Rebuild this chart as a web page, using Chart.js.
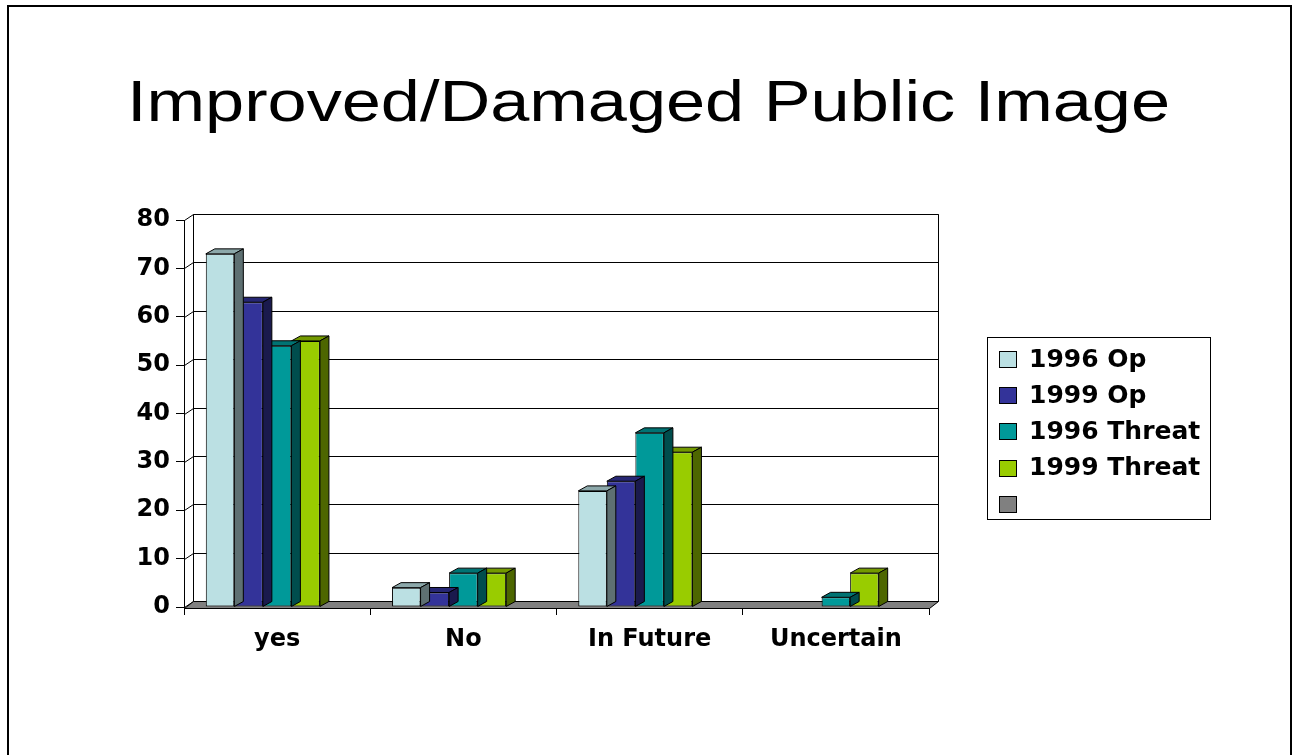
<!DOCTYPE html>
<html>
<head>
<meta charset="utf-8">
<title>Improved/Damaged Public Image</title>
<script src="https://cdn.jsdelivr.net/npm/chart.js@4.4.0/dist/chart.umd.min.js"></script>
<style>
    html, body { margin: 0; padding: 0; background: #fff; }
    canvas { display: block; }
</style>
</head>
<body>
<canvas id="chart" width="1298" height="755"></canvas>
<script>
// Chart data
const chartTitle = "Improved/Damaged Public Image";
const categories = ["yes", "No", "In Future", "Uncertain"];
const seriesNames = ["1996 Op", "1999 Op", "1996 Threat", "1999 Threat", ""];
const op1996 = [73, 4, 24, 0];
const op1999 = [63, 3, 26, 0];
const threat1996 = [54, 7, 36, 2];
const threat1999 = [55, 7, 32, 7];
const unnamed = [null, null, null, null];
const yMin = 0;
const yMax = 80;
const yStep = 10;

// Colours: front, top and side faces of each series
const frontColors = ["#BBE0E3", "#333399", "#009999", "#99CC00", "#808080"];
const topColors = ["#8CA8AA", "#262673", "#007373", "#739900", "#606060"];
const sideColors = ["#5E7072", "#1A1A4D", "#004D4D", "#4D6600", "#404040"];

const labelFont = { family: "DejaVu Sans", weight: "bold", size: 24 };
const WALL_DX = 9, WALL_DY = -6;  // back wall depth offset
const BAR_DX = 9, BAR_DY = -5;    // bar depth offset

const seriesValues = [op1996, op1999, threat1996, threat1999, unnamed];

// Walls, floor, 3D faces, title, legend and slide frame
const threeD = {
    id: "threeD",
    beforeDraw(chart) {
        const ctx = chart.ctx;
        ctx.save();
        ctx.fillStyle = "#fff";
        ctx.fillRect(0, 0, chart.width, chart.height);
        // slide frame (no bottom edge)
        ctx.strokeStyle = "#000";
        ctx.lineWidth = 2;
        ctx.beginPath();
        ctx.moveTo(8, chart.height + 2);
        ctx.lineTo(8, 6);
        ctx.lineTo(1291, 6);
        ctx.lineTo(1291, chart.height + 2);
        ctx.stroke();
        // title, stretched like the slide
        ctx.font = "57px 'Liberation Sans', Arial, sans-serif";
        ctx.textAlign = "center";
        ctx.textBaseline = "alphabetic";
        ctx.fillStyle = "#000";
        const w = ctx.measureText(chartTitle).width;
        ctx.translate(648.5, 121);
        ctx.scale(1043 / w, 1);
        ctx.fillText(chartTitle, 0, 0);
        ctx.restore();
    },
    beforeDatasetsDraw(chart) {
        const { ctx, chartArea: a } = chart;
        const y = chart.scales.y;
        const L = Math.round(a.left) + 0.5;
        const R = Math.round(a.right) + 0.5;
        const T = Math.round(a.top) + 0.5;
        const B = Math.round(a.bottom) + 0.5;
        ctx.save();
        ctx.strokeStyle = "#000";
        ctx.lineWidth = 1;
        // grid lines on back wall + left wall diagonals
        y.ticks.forEach((t) => {
            const py = Math.round(y.getPixelForValue(t.value)) + 0.5;
            ctx.beginPath();
            ctx.moveTo(L, py);
            ctx.lineTo(L + WALL_DX, py + WALL_DY);
            ctx.lineTo(R + WALL_DX, py + WALL_DY);
            ctx.stroke();
        });
        // back wall outline
        ctx.beginPath();
        ctx.moveTo(L + WALL_DX, B + WALL_DY);
        ctx.lineTo(L + WALL_DX, T + WALL_DY);
        ctx.lineTo(R + WALL_DX, T + WALL_DY);
        ctx.lineTo(R + WALL_DX, B + WALL_DY);
        ctx.stroke();
        // floor
        ctx.fillStyle = "#808080";
        ctx.beginPath();
        ctx.moveTo(L, B + 1);
        ctx.lineTo(R, B + 1);
        ctx.lineTo(R + WALL_DX, B + WALL_DY);
        ctx.lineTo(L + WALL_DX, B + WALL_DY);
        ctx.closePath();
        ctx.fill();
        ctx.stroke();
        ctx.restore();
    },
    afterDatasetDraw(chart, args) {
        const i = args.index;
        const ctx = chart.ctx;
        ctx.save();
        ctx.strokeStyle = "#000";
        ctx.lineWidth = 1;
        args.meta.data.forEach((bar) => {
            const p = bar.getProps(["x", "y", "base", "width"], true);
            if (p.y == null || isNaN(p.y) || Math.abs(p.base - p.y) < 0.5) return;
            const l = p.x - p.width / 2;
            const r = p.x + p.width / 2;
            // top face
            ctx.fillStyle = topColors[i];
            ctx.beginPath();
            ctx.moveTo(l, p.y);
            ctx.lineTo(r, p.y);
            ctx.lineTo(r + BAR_DX, p.y + BAR_DY);
            ctx.lineTo(l + BAR_DX, p.y + BAR_DY);
            ctx.closePath();
            ctx.fill();
            ctx.stroke();
            // side face
            ctx.fillStyle = sideColors[i];
            ctx.beginPath();
            ctx.moveTo(r, p.y);
            ctx.lineTo(r + BAR_DX, p.y + BAR_DY);
            ctx.lineTo(r + BAR_DX, p.base + BAR_DY);
            ctx.lineTo(r, p.base);
            ctx.closePath();
            ctx.fill();
            ctx.stroke();
        });
        ctx.restore();
    },
    afterDraw(chart) {
        // legend box
        const ctx = chart.ctx;
        ctx.save();
        ctx.strokeStyle = "#000";
        ctx.lineWidth = 1;
        ctx.strokeRect(987.5, 337.5, 223, 182);
        ctx.font = "bold 25px 'DejaVu Sans'";
        ctx.textBaseline = "middle";
        chart.data.datasets.forEach((ds, k) => {
            const cy = 359 + k * 36.2;
            ctx.fillStyle = frontColors[k];
            ctx.fillRect(999.5, Math.round(cy - 8) + 0.5, 17, 16);
            ctx.strokeRect(999.5, Math.round(cy - 8) + 0.5, 17, 16);
            ctx.fillStyle = "#000";
            ctx.fillText(ds.label, 1029, cy + 1);
        });
        ctx.restore();
    },
};

const datasets = seriesNames.map((name, k) => ({
    label: name,
    data: seriesValues[k],
    backgroundColor: frontColors[k],
    borderColor: "#000",
    borderWidth: 1,
    borderSkipped: false,
    barPercentage: 1.0,
    categoryPercentage: 0.766,
}));

new Chart(document.getElementById("chart"), {
    type: "bar",
    data: { labels: categories, datasets: datasets },
    options: {
        responsive: false,
        animation: false,
        devicePixelRatio: 1,
        layout: { padding: { left: 0, right: 369, top: 220, bottom: 0 } },
        plugins: {
            legend: { display: false },
            tooltip: { enabled: false },
            title: { display: false },
        },
        scales: {
            x: {
                afterFit(s) { s.height = 148; },
                grid: { drawOnChartArea: false, color: "#000", tickLength: 8, offset: true },
                border: { display: false },
                ticks: { color: "#000", font: labelFont, padding: 10 },
            },
            y: {
                min: yMin,
                max: yMax,
                afterFit(s) { s.width = 184; },
                grid: { drawOnChartArea: false, color: "#000", tickLength: 8 },
                border: { display: true, color: "#000" },
                ticks: { stepSize: yStep, color: "#000", font: labelFont, padding: 6 },
            },
        },
    },
    plugins: [threeD],
});
</script>
</body>
</html>
